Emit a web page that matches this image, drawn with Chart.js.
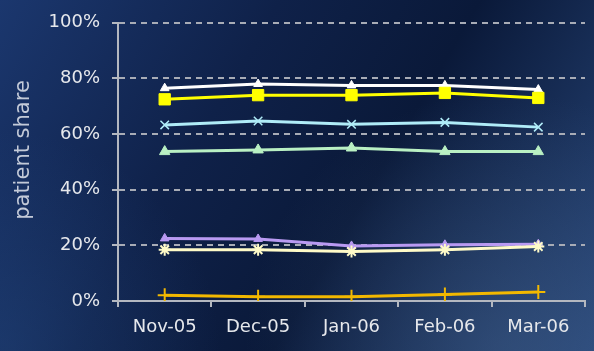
<!DOCTYPE html>
<html>
<head>
<meta charset="utf-8">
<script src="https://cdn.jsdelivr.net/npm/chart.js@4/dist/chart.umd.min.js"></script>
<style>
  html, body { margin: 0; padding: 0; width: 594px; height: 351px; overflow: hidden; }
  #wrap { position: relative; width: 594px; height: 351px; }
</style>
</head>
<body>
<div id="wrap"><canvas id="c" width="594" height="351"></canvas></div>
<script>
// Monthly patient share per product, Nov-05 to Mar-06
const months = ['Nov-05', 'Dec-05', 'Jan-06', 'Feb-06', 'Mar-06'];
const yTicks = [0, 20, 40, 60, 80, 100];
const yTitle = 'patient share';

const shareWhite  = [76.5, 78.0, 77.5, 77.5, 76.0];
const shareYellow = [72.5, 74.0, 74.0, 74.8, 73.0];
const shareCyan   = [63.3, 64.7, 63.5, 64.2, 62.5];
const shareGreen  = [53.7, 54.3, 55.0, 53.7, 53.7];
const sharePurple = [22.5, 22.3, 19.8, 20.2, 20.4];
const shareCream  = [18.4, 18.4, 17.8, 18.4, 19.6];
const shareOrange = [2.1, 1.5, 1.5, 2.3, 3.2];

// Navy backdrop with lighter corners
const backdrop = {
  id: 'backdrop',
  beforeDraw(chart) {
    const { ctx, width, height } = chart;
    ctx.save();
    const g = ctx.createLinearGradient(0, 0, width, height);
    g.addColorStop(0, '#1b376e');
    g.addColorStop(0.35, '#0f2149');
    g.addColorStop(0.6, '#0a1939');
    g.addColorStop(1, '#28477a');
    ctx.fillStyle = g;
    ctx.fillRect(0, 0, width, height);
    const r = ctx.createRadialGradient(width * 0.85, height, 10, width * 0.85, height, 260);
    r.addColorStop(0, 'rgba(70,100,140,0.4)');
    r.addColorStop(1, 'rgba(70,100,140,0)');
    ctx.fillStyle = r;
    ctx.fillRect(0, 0, width, height);
    const l = ctx.createRadialGradient(0, height, 10, 0, height, 220);
    l.addColorStop(0, 'rgba(40,80,140,0.4)');
    l.addColorStop(1, 'rgba(40,80,140,0)');
    ctx.fillStyle = l;
    ctx.fillRect(0, 0, width, height);
    ctx.restore();
  }
};

// Rotated axis title, placed beside the tick labels
const axisTitle = {
  id: 'axisTitle',
  afterDraw(chart) {
    const { ctx } = chart;
    ctx.save();
    ctx.translate(24, 150);
    ctx.rotate(-Math.PI / 2);
    ctx.font = '21px "DejaVu Sans"';
    ctx.fillStyle = '#c3cad8';
    ctx.textAlign = 'center';
    ctx.textBaseline = 'middle';
    ctx.fillText(yTitle, 0, 0);
    ctx.restore();
  }
};

function series(data, color, style, radius, bw) {
  return {
    data,
    borderColor: color,
    backgroundColor: color,
    borderWidth: 3,
    pointStyle: style,
    pointRadius: radius,
    pointBorderWidth: bw,
    pointBorderColor: color,
    pointBackgroundColor: color,
    tension: 0
  };
}

new Chart(document.getElementById('c'), {
  type: 'line',
  data: {
    labels: months,
    datasets: [
      series(shareOrange, '#f2b800', 'cross', 7, 2),
      series(shareCream,  '#fffbc8', 'star', 6, 2),
      series(sharePurple, '#b99af2', 'triangle', 5, 1),
      series(shareGreen,  '#b9f0c3', 'triangle', 6, 1),
      series(shareCyan,   '#b0ecf8', 'crossRot', 6, 1.5),
      series(shareYellow, '#ffff00', 'rect', 8, 1),
      series(shareWhite,  '#ffffff', 'triangle', 5, 1)
    ]
  },
  options: {
    responsive: false,
    animation: false,
    events: [],
    layout: { padding: { top: 15, right: 1, left: 0, bottom: 0 } },
    plugins: { legend: { display: false }, tooltip: { enabled: false } },
    scales: {
      x: {
        offset: true,
        border: { display: true, color: '#b4b8c0', width: 2 },
        grid: { display: true, offset: true, drawOnChartArea: false, drawTicks: true, tickLength: 6, color: '#b4b8c0', lineWidth: 2 },
        ticks: { color: '#e6e8ec', font: { family: 'DejaVu Sans', size: 18 }, padding: 10, maxRotation: 0 },
        afterFit(scale) { scale.height = 50; }
      },
      y: {
        min: 0,
        max: 100,
        afterBuildTicks(scale) { scale.ticks = yTicks.map(v => ({ value: v })); },
        border: { display: true, color: '#b4b8c0', width: 2, dash: [6, 5] },
        grid: {
          color: ctx => ctx.tick && ctx.tick.value === 0 ? 'rgba(0,0,0,0)' : '#a8acb6',
          lineWidth: 2,
          tickLength: 6,
          tickColor: '#b4b8c0',
          tickBorderDash: []
        },
        ticks: {
          color: '#e6e8ec',
          font: { family: 'DejaVu Sans', size: 18 },
          padding: 12,
          callback: v => v + '%'
        },
        afterFit(scale) { scale.width = 118; }
      }
    }
  },
  plugins: [backdrop, axisTitle]
});
</script>
</body>
</html>
